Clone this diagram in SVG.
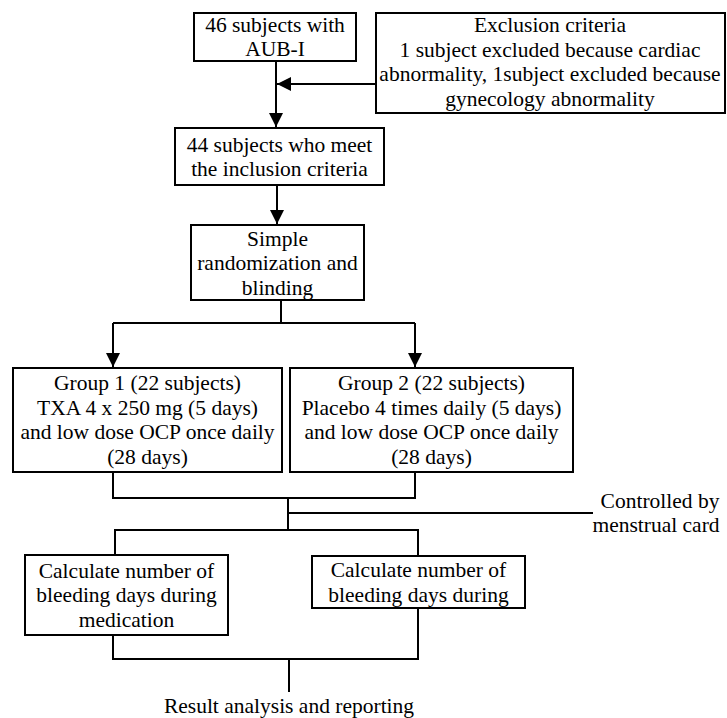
<svg xmlns="http://www.w3.org/2000/svg" width="727" height="718" viewBox="0 0 727 718" font-family="'Liberation Serif', 'Times New Roman', Times, serif" font-size="21.5">
<style>
.box{fill:#fff;stroke:#000;stroke-width:2}
.ln{fill:none;stroke:#000;stroke-width:2}
.t{font-family:'Liberation Serif','Times New Roman',Times,serif;font-size:21.5px;fill:#000;text-anchor:middle}
</style>
<defs>
<marker id="ah" markerUnits="userSpaceOnUse" markerWidth="14" markerHeight="14" refX="14" refY="7" orient="auto">
<path d="M0,0 L14,7 L0,14 z" fill="#000"/>
</marker>
</defs>
<rect width="727" height="718" fill="#fff"/>
<g id="connectors">
<path class="ln" d="M276,61 V127" marker-end="url(#ah)"/>
<path class="ln" d="M376,84 H277" marker-end="url(#ah)"/>
<path class="ln" d="M277,185 V224" marker-end="url(#ah)"/>
<path class="ln" d="M281,300 V323"/>
<path class="ln" d="M113,323 H415"/>
<path class="ln" d="M113,323 V367" marker-end="url(#ah)"/>
<path class="ln" d="M415,323 V367" marker-end="url(#ah)"/>
<path class="ln" d="M113,472 V498 H415 V472"/>
<path class="ln" d="M288,498 V530"/>
<path class="ln" d="M288,513 H593"/>
<path class="ln" d="M115,555 V530 H418 V556"/>
<path class="ln" d="M113,635 V659 H418 V608"/>
<path class="ln" d="M289,659 V692"/>
</g>
<g id="n1" class="t"><rect class="box" x="194" y="13" width="162" height="48"/>
<text x="275" y="31.5">46 subjects with</text><text x="275" y="56">AUB-I</text></g>
<g id="excl" class="t"><rect class="box" x="376" y="13" width="349" height="100"/>
<text x="550" y="32">Exclusion criteria</text>
<text x="550" y="56.5">1 subject excluded because cardiac</text>
<text x="550" y="81">abnormality, 1subject excluded because</text>
<text x="550" y="105.5">gynecology abnormality</text></g>
<g id="n2" class="t"><rect class="box" x="175" y="128" width="209" height="57"/>
<text x="279.5" y="151.5">44 subjects who meet</text><text x="279.5" y="176">the inclusion criteria</text></g>
<g id="n3" class="t"><rect class="box" x="191" y="225" width="173" height="75"/>
<text x="277.5" y="245.5">Simple</text><text x="277.5" y="270">randomization and</text><text x="277.5" y="294.5">blinding</text></g>
<g id="g1" class="t"><rect class="box" x="13" y="368" width="269" height="104"/>
<text x="147.5" y="390">Group 1 (22 subjects)</text>
<text x="147.5" y="414.5">TXA 4 x 250 mg (5 days)</text>
<text x="147.5" y="439">and low dose OCP once daily</text>
<text x="147.5" y="463.5">(28 days)</text></g>
<g id="g2" class="t"><rect class="box" x="290" y="368" width="283" height="104"/>
<text x="431.5" y="390">Group 2 (22 subjects)</text>
<text x="431.5" y="414.5">Placebo 4 times daily (5 days)</text>
<text x="431.5" y="439">and low dose OCP once daily</text>
<text x="431.5" y="463.5">(28 days)</text></g>
<g id="ctrl" class="t"><text x="660" y="508">Controlled by</text><text x="656" y="532">menstrual card</text></g>
<g id="c1" class="t"><rect class="box" x="25" y="555" width="203" height="80"/>
<text x="126.5" y="577.5">Calculate number of</text><text x="126.5" y="602">bleeding days during</text><text x="126.5" y="626.5">medication</text></g>
<g id="c2" class="t"><rect class="box" x="312" y="556" width="213" height="52"/>
<text x="418.5" y="577">Calculate number of</text><text x="418.5" y="601.5">bleeding days during</text></g>
<g id="res" class="t"><text x="289" y="713">Result analysis and reporting</text></g>
</svg>
